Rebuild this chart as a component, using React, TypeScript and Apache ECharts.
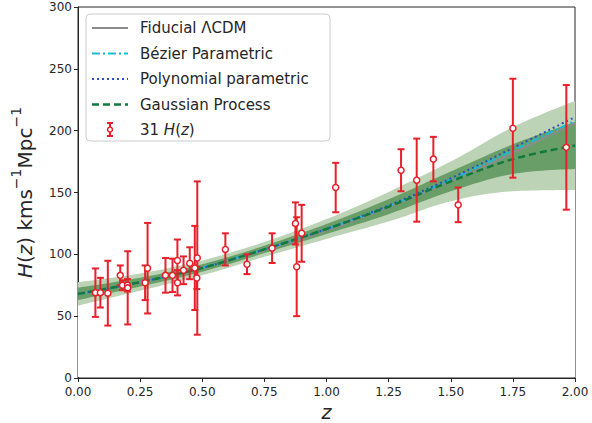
import React, { useEffect, useRef } from 'react';
import * as echarts from 'echarts';

// 31 H(z) measurements
const zData = [0.07, 0.09, 0.12, 0.17, 0.179, 0.199, 0.2, 0.27, 0.28, 0.352, 0.3802, 0.4, 0.4004, 0.4247, 0.4497, 0.47, 0.4783, 0.48, 0.593, 0.68, 0.781, 0.875, 0.88, 0.9, 1.037, 1.3, 1.363, 1.43, 1.53, 1.75, 1.965];
const hData = [69, 69, 68.6, 83, 75, 75, 72.9, 77, 88.8, 83, 83, 95, 77, 87.1, 92.8, 89, 80.9, 97, 104, 92, 105, 125, 90, 117, 154, 168, 160, 177, 140, 202, 186.5];
const sigma = [19.6, 12, 26.2, 8, 4, 5, 29.6, 14, 36.6, 14, 13.5, 17, 10.2, 11.2, 12.9, 34, 9, 62, 13, 8, 12, 17, 40, 23, 20, 17, 33.6, 18, 14, 40, 50.4];

// reconstructed curves, read at these redshifts
const curveZ = [0, 0.25, 0.5, 0.75, 1.0, 1.25, 1.5, 1.75, 2.0];
const lcdm = [68, 77.5, 89, 103.5, 119.5, 138, 159, 182, 206];
const bezier = [67.8, 77.5, 89.3, 104, 120.5, 139, 160.5, 184, 208];
const poly = [68, 77.5, 89, 104, 120.5, 139.5, 161.5, 186, 211];
const gpMean = [68, 77.5, 89, 104, 120.5, 138.5, 159, 177, 188];
const gp1Low = [63, 74, 86, 101, 116.5, 132.5, 151, 165, 169];
const gp1High = [73, 81, 92, 107, 124.5, 144.5, 167, 189, 207];
const gp2Low = [58.5, 70.5, 83, 98, 112.5, 126.5, 143, 151, 152];
const gp2High = [77.5, 84.5, 95, 110, 128.5, 150.5, 175, 203, 224];

const xTicks = [0, 0.25, 0.5, 0.75, 1.0, 1.25, 1.5, 1.75, 2.0];
const yTicks = [0, 50, 100, 150, 200, 250, 300];

const FONT = 'DejaVu Sans';
const TXT = '#262626';
const RED = '#e8202a';
const LIGHT = '#bcd3b6';
const DARK = '#6a9e68';
const GRAY = '#8c8c8c';
const CYAN = '#17becf';
const BLUE = '#2f4fbf';
const GREEN = '#117a3c';

export default function App() {
  const ref = useRef<HTMLDivElement>(null);
  useEffect(() => {
    document.body.style.margin = '0';
    const chart = echarts.init(ref.current!, null, { renderer: 'svg' });
    const pairs = (ys: number[]) => curveZ.map((z, i) => [z, ys[i]]);
    const smooth = 0.35;
    const hidden = { opacity: 0 };
    // filled areas painted from each edge down to a baseline, upper edges first
    const band = (ys: number[], color: string, origin: number) => ({
      type: 'line', data: pairs(ys), symbol: 'none', smooth, silent: true, z: 1,
      lineStyle: hidden, areaStyle: { color, opacity: 1, origin },
    });

    const legendRows = [28, 53.5, 79, 104.5, 129.5];
    const lx1 = 92, lx2 = 128, tx = 140;
    const legendLine = (y: number, color: string, dash: any, width: number) => ({
      type: 'line', shape: { x1: lx1, y1: y, x2: lx2, y2: y },
      style: { stroke: color, lineWidth: width, lineDash: dash }, z: 101,
    });
    const legendText = (y: number, text: string) => ({
      type: 'text', x: tx, y, z: 101,
      style: {
        text, fill: TXT, font: `15px "${FONT}"`, verticalAlign: 'middle', align: 'left',
        rich: { i: { fontStyle: 'italic', fontSize: 15, fontFamily: FONT, fill: TXT } },
      },
    });

    chart.setOption({
      animation: false,
      textStyle: { fontFamily: FONT },
      grid: {
        left: 78, right: 17, top: 7, bottom: 45, show: true, borderColor: TXT, borderWidth: 1,
        backgroundColor: 'transparent', containLabel: false, outerBoundsMode: 'none',
      },
      xAxis: {
        type: 'value', min: 0, max: 2, interval: 0.25,
        name: 'z', nameLocation: 'middle', nameGap: 20,
        nameTextStyle: { fontStyle: 'italic', fontSize: 19, lineHeight: 19, fontFamily: FONT, color: TXT },
        axisLine: { show: true, lineStyle: { color: TXT, width: 1 } },
        axisTick: { show: true, length: 4, lineStyle: { color: TXT } },
        axisLabel: { color: TXT, fontSize: 12, margin: 8, formatter: (v: number) => xTicks.includes(v) ? v.toFixed(2) : '' },
        splitLine: { show: false },
      },
      yAxis: {
        type: 'value', min: 0, max: 300, interval: 50,
        name: '{i|H}{n|(}{i|z}{n|) kms}{s|−1}{n|Mpc}{s|−1}', nameLocation: 'middle', nameGap: 43, nameRotate: 90,
        nameTextStyle: {
          fontSize: 20, color: TXT,
          rich: {
            i: { fontStyle: 'italic', fontSize: 20, fontFamily: FONT, color: TXT, lineHeight: 26, verticalAlign: 'bottom' },
            n: { fontSize: 20, fontFamily: FONT, color: TXT, lineHeight: 26, verticalAlign: 'bottom' },
            s: { fontSize: 14, fontFamily: FONT, color: TXT, lineHeight: 26, verticalAlign: 'top' },
          },
        },
        axisLine: { show: true, lineStyle: { color: TXT, width: 1 } },
        axisTick: { show: true, length: 4, lineStyle: { color: TXT } },
        axisLabel: { color: TXT, fontSize: 12, margin: 6, formatter: (v: number) => yTicks.includes(v) ? String(v) : '' },
        splitLine: { show: false },
      },
      series: [
        band(gp2High, LIGHT, 3),
        band(gp1High, DARK, 3),
        band(gp1Low, LIGHT, 3),
        band(gp2Low, '#ffffff', 0.9),
        { name: 'Fiducial ΛCDM', type: 'line', z: 3, data: pairs(lcdm), symbol: 'none', smooth, lineStyle: { color: GRAY, width: 2 } },
        { name: 'Bézier Parametric', type: 'line', z: 3, data: pairs(bezier), symbol: 'none', smooth, lineStyle: { color: CYAN, width: 2, type: [8, 3, 2, 3] } },
        { name: 'Polynomial parametric', type: 'line', z: 3, data: pairs(poly), symbol: 'none', smooth, lineStyle: { color: BLUE, width: 2, type: [2, 3] } },
        { name: 'Gaussian Process', type: 'line', z: 3, data: pairs(gpMean), symbol: 'none', smooth, lineStyle: { color: GREEN, width: 2.5, type: [7, 4] } },
        {
          name: '31 H(z)', type: 'custom', z: 10,
          data: zData.map((z, i) => [z, hData[i] - sigma[i], hData[i] + sigma[i]]),
          encode: { x: 0, y: [1, 2] },
          renderItem: (params: any, api: any) => {
            const x = api.value(0);
            const p1 = api.coord([x, api.value(1)]);
            const p2 = api.coord([x, api.value(2)]);
            const c = 3.5;
            const style = { stroke: RED, lineWidth: 2 };
            return {
              type: 'group', children: [
                { type: 'line', shape: { x1: p1[0], y1: p1[1], x2: p2[0], y2: p2[1] }, style },
                { type: 'line', shape: { x1: p1[0] - c, y1: p1[1], x2: p1[0] + c, y2: p1[1] }, style },
                { type: 'line', shape: { x1: p2[0] - c, y1: p2[1], x2: p2[0] + c, y2: p2[1] }, style },
              ],
            };
          },
        },
        {
          type: 'scatter', z: 11, data: zData.map((z, i) => [z, hData[i]]),
          symbol: 'circle', symbolSize: 6,
          itemStyle: { color: '#ffffff', borderColor: RED, borderWidth: 1.5, opacity: 1 },
        },
      ],
      graphic: [
        { type: 'rect', shape: { x: 86, y: 14, width: 244, height: 127, r: 4 }, style: { fill: 'rgba(255,255,255,0.8)', stroke: '#cccccc', lineWidth: 1 }, z: 100 },
        legendLine(legendRows[0], GRAY, null, 2),
        legendText(legendRows[0], 'Fiducial ΛCDM'),
        legendLine(legendRows[1], CYAN, [8, 3, 2, 3], 2),
        legendText(legendRows[1], 'Bézier Parametric'),
        legendLine(legendRows[2], BLUE, [2, 3], 2),
        legendText(legendRows[2], 'Polynomial parametric'),
        legendLine(legendRows[3], GREEN, [7, 4], 2.5),
        legendText(legendRows[3], 'Gaussian Process'),
        { type: 'line', shape: { x1: 110, y1: 123, x2: 110, y2: 136 }, style: { stroke: RED, lineWidth: 2 }, z: 101 },
        { type: 'line', shape: { x1: 107, y1: 123, x2: 113, y2: 123 }, style: { stroke: RED, lineWidth: 2 }, z: 101 },
        { type: 'line', shape: { x1: 107, y1: 136, x2: 113, y2: 136 }, style: { stroke: RED, lineWidth: 2 }, z: 101 },
        { type: 'circle', shape: { cx: 110, cy: 129.5, r: 2.5 }, style: { fill: '#ffffff', stroke: RED, lineWidth: 1.5 }, z: 102 },
        legendText(legendRows[4], '31 {i|H}({i|z})'),
      ],
    });
    return () => chart.dispose();
  }, []);
  return <div ref={ref} style={{ width: 592, height: 423 }} />;
}
